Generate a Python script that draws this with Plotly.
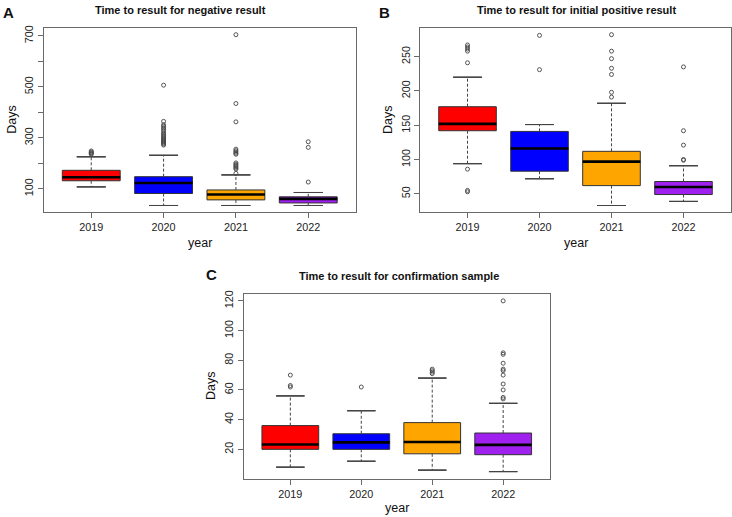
import plotly.graph_objects as go

W, H = 732, 517
years = ['2019', '2020', '2021', '2022']
colors = ['#FF0000', '#0000FF', '#FFA500', '#A020F0']

# Panel A: negative result
a_lo = [108, 35, 35, 35]
a_q1 = [132, 82, 57, 45]
a_med = [146, 123, 78, 61]
a_q3 = [173, 148, 96, 69]
a_hi = [226, 232, 155, 86]
a_out = {
    '2019': [236, 239, 242, 245, 249],
    '2020': [507, 365, 352, 346, 340, 334, 328, 320, 315, 310, 305, 300, 296, 292, 288, 284, 280, 276, 272],
    '2021': [705, 435, 363, 256, 250, 245, 240, 236, 202, 197, 192, 187, 182, 178, 161],
    '2022': [285, 263, 127],
}

# Panel B: initial positive result
b_lo = [94, 72, 33, 39]
b_q1 = [142, 83, 62, 49]
b_med = [152, 116, 97, 60]
b_q3 = [177, 141, 112, 68]
b_hi = [220, 151, 182, 91]
b_out = {
    '2019': [267, 264, 261, 258, 241, 86, 55, 53],
    '2020': [281, 231],
    '2021': [282, 258, 247, 233, 224, 198, 191],
    '2022': [235, 142, 121, 100, 99],
}

# Panel C: confirmation sample
c_lo = [8, 12, 6, 5]
c_q1 = [20, 20, 17, 16.4]
c_med = [23.3, 24.7, 25, 23]
c_q3 = [36, 30.5, 38, 31]
c_hi = [56, 46, 68, 51]
c_out = {
    '2019': [70, 63, 62],
    '2020': [62],
    '2021': [74, 73, 72, 71],
    '2022': [120, 85, 84, 78, 74, 73, 70, 64, 60, 55, 54],
}

panels = [
    dict(lo=a_lo, q1=a_q1, med=a_med, q3=a_q3, hi=a_hi, out=a_out, xa='x', ya='y'),
    dict(lo=b_lo, q1=b_q1, med=b_med, q3=b_q3, hi=b_hi, out=b_out, xa='x2', ya='y2'),
    dict(lo=c_lo, q1=c_q1, med=c_med, q3=c_q3, hi=c_hi, out=c_out, xa='x3', ya='y3'),
]

fig = go.Figure()
WH = '#444444'
for p in panels:
    xa, ya = p['xa'], p['ya']
    for i, yr in enumerate(years):
        fig.add_trace(go.Box(
            x=[yr], q1=[p['q1'][i]], median=[p['med'][i]], q3=[p['q3'][i]],
            lowerfence=[p['q1'][i]], upperfence=[p['q3'][i]],
            width=0.8, whiskerwidth=0, fillcolor=colors[i],
            line=dict(color='#333333', width=1), boxpoints=False,
            xaxis=xa, yaxis=ya, showlegend=False, hoverinfo='skip'))
    # thick median
    fig.add_trace(go.Box(
        x=years, q1=p['med'], median=p['med'], q3=p['med'],
        lowerfence=p['med'], upperfence=p['med'],
        width=0.8, whiskerwidth=0, fillcolor='rgba(0,0,0,0)',
        line=dict(color='#000000', width=2.6), boxpoints=False,
        xaxis=xa, yaxis=ya, showlegend=False, hoverinfo='skip'))
    # dashed whiskers
    wx, wy = [], []
    for i, yr in enumerate(years):
        wx += [yr, yr, None, yr, yr, None]
        wy += [p['q3'][i], p['hi'][i], None, p['q1'][i], p['lo'][i], None]
    fig.add_trace(go.Scatter(
        x=wx, y=wy, mode='lines', line=dict(color=WH, width=1, dash='3px,2px'),
        xaxis=xa, yaxis=ya, showlegend=False, hoverinfo='skip'))
    # caps
    for key in ('hi', 'lo'):
        fig.add_trace(go.Box(
            x=years, q1=p[key], median=p[key], q3=p[key],
            lowerfence=p[key], upperfence=p[key],
            width=0.4, whiskerwidth=0, fillcolor='rgba(0,0,0,0)',
            line=dict(color=WH, width=1), boxpoints=False,
            xaxis=xa, yaxis=ya, showlegend=False, hoverinfo='skip'))
    # outliers
    ox, oy = [], []
    for yr in years:
        for v in p['out'][yr]:
            ox.append(yr)
            oy.append(v)
    fig.add_trace(go.Scatter(
        x=ox, y=oy, mode='markers',
        marker=dict(symbol='circle-open', size=4, color=WH, line=dict(width=0.9, color=WH)),
        xaxis=xa, yaxis=ya, showlegend=False, hoverinfo='skip'))

FONT = 'Liberation Sans, Arial, Helvetica, sans-serif'
axis_common = dict(showline=True, mirror=True, linecolor='#6a6a6a', linewidth=1,
                   ticks='outside', ticklen=5, tickcolor='#6a6a6a', tickwidth=1,
                   showgrid=False, zeroline=False,
                   tickfont=dict(family=FONT, size=10.8, color='#222222'))

def xdom(a, b):
    return [a / W, b / W]

def ydom(top, bot):
    return [1 - bot / H, 1 - top / H]

fig.update_layout(
    width=W, height=H, margin=dict(l=0, r=0, t=0, b=0),
    paper_bgcolor='white', plot_bgcolor='white', boxmode='overlay',
    font=dict(family=FONT, color='#111111'),
    xaxis=dict(domain=xdom(43.5, 356), anchor='y', type='category', categoryarray=years,
               range=[-0.66, 3.66], **axis_common),
    yaxis=dict(domain=ydom(24, 210), anchor='x', range=[8, 732],
               tickvals=[100, 200, 300, 400, 500, 600, 700],
               ticktext=['100', '', '300', '', '500', '', '700'], tickangle=-90, **axis_common),
    xaxis2=dict(domain=xdom(420, 731), anchor='y2', type='category', categoryarray=years,
                range=[-0.66, 3.66], **axis_common),
    yaxis2=dict(domain=ydom(24, 210), anchor='x2', range=[23, 292],
                tickvals=[50, 100, 150, 200, 250], tickangle=-90, **axis_common),
    xaxis3=dict(domain=xdom(243.5, 550), anchor='y3', type='category', categoryarray=years,
                range=[-0.66, 3.66], **axis_common),
    yaxis3=dict(domain=ydom(292.3, 478.3), anchor='x3', range=[0.3, 124.6],
                tickvals=[20, 40, 60, 80, 100, 120], tickangle=-90, **axis_common),
)

def ann(text, x, y, size, bold=False, angle=0, xanchor='center'):
    fig.add_annotation(text=('<b>%s</b>' % text) if bold else text,
                       x=x / W, y=1 - y / H, xref='paper', yref='paper',
                       xanchor=xanchor, yanchor='middle', showarrow=False,
                       textangle=angle, font=dict(family=FONT, size=size, color='#111111'))

ann('A', 1, 9, 15, bold=True, xanchor='left')
ann('Time to result for negative result', 180, 6.5, 11, bold=True)
ann('B', 377, 9, 15, bold=True, xanchor='left')
ann('Time to result for initial positive result', 576.5, 6.5, 11, bold=True)
ann('C', 204, 273, 15, bold=True, xanchor='left')
ann('Time to result for confirmation sample', 399, 274, 11, bold=True)
ann('Days', 11.7, 117, 12.5, angle=-90)
ann('Days', 388, 117, 12.5, angle=-90)
ann('Days', 211, 385, 12.5, angle=-90)
ann('year', 200, 241, 12.5)
ann('year', 575.5, 241, 12.5)
ann('year', 397, 508, 12.5)

fig.write_html('out.html', config={'displayModeBar': False},
               post_script="document.body.style.margin='0';document.body.style.overflow='hidden';")
